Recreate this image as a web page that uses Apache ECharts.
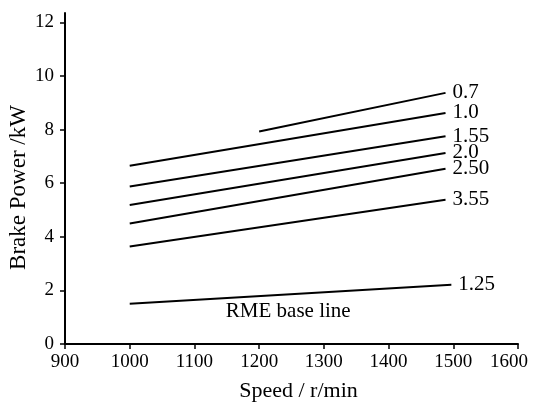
<!DOCTYPE html>
<html>
<head>
<meta charset="utf-8">
<script src="https://cdn.jsdelivr.net/npm/echarts@6/dist/echarts.min.js"></script>
<style>html,body{margin:0;padding:0;background:#fff}#c{width:534px;height:408px}</style>
</head>
<body>
<div id="c"></div>
<script>
// Speed / r/min  -> Brake Power / kW
var xTicks = [900, 1000, 1100, 1200, 1300, 1400, 1500, 1600];
var yTicks = [0, 2, 4, 6, 8, 10, 12];
var lineNames = ['0.7', '1.0', '1.55', '2.0', '2.50', '3.55', '1.25'];
var lineStartSpeed = [1200, 1000, 1000, 1000, 1000, 1000, 1000];
var lineEndSpeed   = [1488, 1488, 1488, 1488, 1488, 1488, 1497];
var lineStartPower = [7.93, 6.65, 5.88, 5.19, 4.50, 3.64, 1.50];
var lineEndPower   = [9.37, 8.62, 7.75, 7.13, 6.54, 5.38, 2.21];
var baseLineLabel = 'RME base line';
var baseLineLabelAt = [1245, 1.2];

var font = 'Liberation Serif, Times New Roman, serif';
var series = lineNames.map(function (n, i) {
  var s = {
    type: 'line',
    name: n,
    data: [[lineStartSpeed[i], lineStartPower[i]], [lineEndSpeed[i], lineEndPower[i]]],
    showSymbol: false,
    symbol: 'none',
    lineStyle: { color: '#000', width: 2 },
    silent: true,
    animation: false,
    endLabel: {
      show: true,
      formatter: n,
      color: '#000',
      fontFamily: font,
      fontSize: 21,
      distance: 7
    }
  };
  if (i === lineNames.length - 1) {
    s.markPoint = {
      symbol: 'circle',
      symbolSize: 0,
      silent: true,
      data: [{ coord: baseLineLabelAt, value: baseLineLabel }],
      label: {
        show: true,
        position: 'inside',
        formatter: baseLineLabel,
        color: '#000',
        fontFamily: font,
        fontSize: 21
      }
    };
  }
  return s;
});

var xMax = xTicks[xTicks.length - 1];
var chart = echarts.init(document.getElementById('c'), null, { renderer: 'canvas' });
chart.setOption({
  backgroundColor: '#fff',
  animation: false,
  grid: { left: 65, right: 16, top: 13, bottom: 64, containLabel: false, outerBoundsMode: 'none' },
  xAxis: {
    type: 'value',
    min: xTicks[0], max: xMax, interval: 100,
    name: 'Speed / r/min',
    nameLocation: 'middle',
    nameGap: 36,
    nameMoveOverlap: false,
    nameTextStyle: { color: '#000', fontFamily: font, fontSize: 22, padding: [0, 0, 0, 14] },
    axisLine: { show: true, onZero: false, lineStyle: { color: '#000', width: 2 } },
    axisTick: { show: true, length: 5, lineStyle: { color: '#000', width: 1.5 } },
    axisLabel: { color: '#000', fontFamily: font, fontSize: 19, margin: 9,
      formatter: function (v) {
        if (xTicks.indexOf(v) < 0) return '';
        return v === xMax ? '{m|' + v + '}' : String(v);
      },
      rich: { m: { padding: [0, 18, 0, 0], fontFamily: font, fontSize: 19, color: '#000' } }
    },
    splitLine: { show: false }
  },
  yAxis: {
    type: 'value',
    min: 0, max: 12.35,
    interval: 2,
    name: 'Brake Power /kW',
    nameLocation: 'middle',
    nameGap: 35,
    nameMoveOverlap: false,
    nameTextStyle: { color: '#000', fontFamily: font, fontSize: 23, padding: [0, 18, 0, 0] },
    axisLine: { show: true, onZero: false, lineStyle: { color: '#000', width: 2 } },
    axisTick: { show: true, length: 5, lineStyle: { color: '#000', width: 1.5 }, customValues: yTicks },
    axisLabel: { color: '#000', fontFamily: font, fontSize: 19, margin: 11, customValues: yTicks },
    splitLine: { show: false }
  },
  series: series
});
</script>
</body>
</html>
